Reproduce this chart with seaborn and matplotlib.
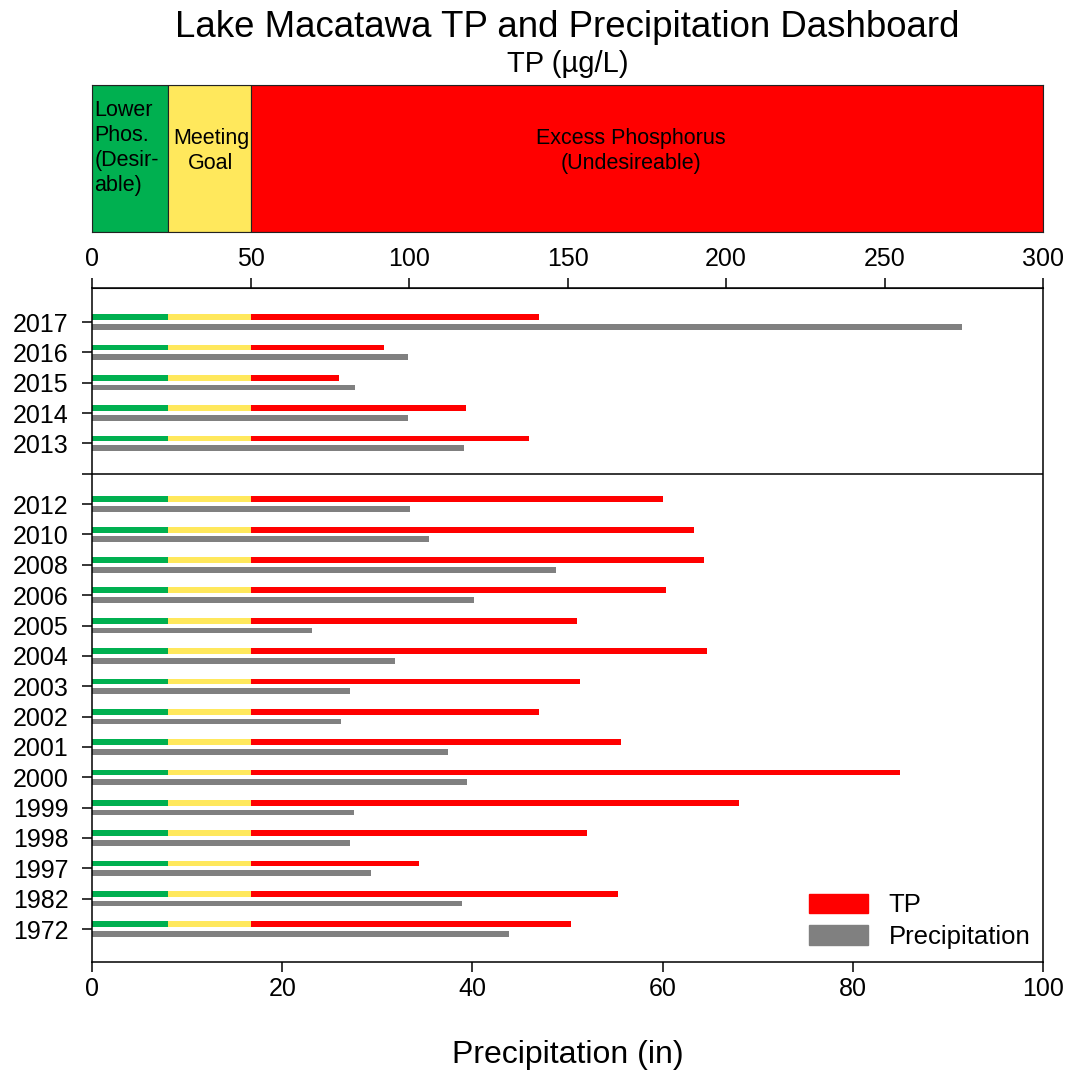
#!/usr/bin/env python3
import pandas as pd
import matplotlib
matplotlib.use("Agg")
import matplotlib.pyplot as plt
from matplotlib.patches import Patch
import seaborn as sns

# Data
years_recent = ["2017", "2016", "2015", "2014", "2013"]
tp_recent = [141, 92, 78, 118, 138]          # ug/L
precip_recent = [91.5, 33.2, 27.7, 33.2, 39.1]  # in

years_old = ["2012", "2010", "2008", "2006", "2005", "2004", "2003", "2002",
             "2001", "2000", "1999", "1998", "1997", "1982", "1972"]
tp_old = [180, 190, 193, 181, 153, 194, 154, 141, 167, 255, 204, 156, 103, 166, 151]
precip_old = [33.4, 35.4, 48.8, 40.2, 23.1, 31.9, 27.1, 26.2, 37.4, 39.4,
              27.5, 27.1, 29.3, 38.9, 43.8]

# TP class limits (ug/L)
green_max = 24
yellow_max = 50
tp_max = 300
tp_scale = 3.0  # TP axis (0-300) maps onto precipitation axis (0-100)

GREEN = "#00B050"
YELLOW = "#FFE85C"
RED = "#FF0000"
GRAY = "#808080"


def build_frame():
    # old years take positions 0..14 from the bottom, a gap at 15, recent at 16..20
    old = pd.DataFrame({"year": years_old[::-1], "tp": tp_old[::-1],
                        "precip": precip_old[::-1]})
    old["pos"] = range(len(old))
    rec = pd.DataFrame({"year": years_recent[::-1], "tp": tp_recent[::-1],
                        "precip": precip_recent[::-1]})
    rec["pos"] = [len(old) + 1 + i for i in range(len(rec))]
    return pd.concat([old, rec], ignore_index=True), len(old)


def main():
    sns.set_style("ticks")
    plt.rcParams["font.family"] = ["Liberation Sans", "DejaVu Sans"]
    for k in ["text.color", "axes.labelcolor", "xtick.color", "ytick.color"]:
        plt.rcParams[k] = "black"

    df, gap_pos = build_frame()

    fig = plt.figure(figsize=(10.69, 10.70), dpi=100)
    ax_band = fig.add_axes([0.0861, 0.7832, 0.8896, 0.1374])
    ax = fig.add_axes([0.0861, 0.1009, 0.8896, 0.6299])

    # --- top colour band ---
    ax_band.axvspan(0, green_max, color=GREEN, ec="#222222", lw=0.8)
    ax_band.axvspan(green_max, yellow_max, color=YELLOW, ec="#222222", lw=0.8)
    ax_band.axvspan(yellow_max, tp_max, color=RED, ec="#222222", lw=0.8)
    ax_band.set_xlim(0, tp_max)
    ax_band.set_ylim(0, 1)
    ax_band.set_xticks([])
    ax_band.set_yticks([])
    for s in ax_band.spines.values():
        s.set_color("#222222")
        s.set_linewidth(0.8)
    ax_band.text(0.8, 0.57, "Lower\nPhos.\n(Desir-\nable)", ha="left", va="center",
                 fontsize=15.5, linespacing=1.25)
    ax_band.text((green_max + yellow_max) / 2 + 0.5, 0.55, "Meeting\nGoal",
                 ha="center", va="center", fontsize=15.5, linespacing=1.25)
    ax_band.text(170, 0.55, "Excess Phosphorus\n(Undesireable)", ha="center",
                 va="center", fontsize=15.5, linespacing=1.25)

    # --- main bars ---
    h = 0.19
    off = 0.16
    g = green_max / tp_scale
    y = yellow_max / tp_scale
    pos_tp = df["pos"] + off
    ax.barh(pos_tp, g, height=h, color=GREEN, lw=0)
    ax.barh(pos_tp, y - g, left=g, height=h, color=YELLOW, lw=0)
    ax.barh(pos_tp, df["tp"] / tp_scale - y, left=y, height=h, color=RED, lw=0)

    pdf = pd.DataFrame({"precip": df["precip"], "ypos": df["pos"] - off})
    sns.barplot(data=pdf, x="precip", y="ypos", orient="y", native_scale=True,
                width=h, color=GRAY, saturation=1, errorbar=None, ax=ax, lw=0)

    ax.axhline(gap_pos, color="black", lw=1.1)

    ax.set_xlim(0, 100)
    ax.set_ylim(-1.087, 21.12)
    ax.set_xticks(range(0, 101, 20))
    ticks = list(df["pos"]) + [gap_pos]
    labels = list(df["year"]) + [""]
    ax.set_yticks(ticks)
    ax.set_yticklabels(labels)
    ax.set_ylabel("")
    ax.set_xlabel("Precipitation (in)", fontsize=23, labelpad=28)
    ax.tick_params(axis="both", labelsize=18, length=7, width=1.1, direction="out",
                   color="black")
    ax.tick_params(axis="y", pad=10)
    for s in ax.spines.values():
        s.set_visible(True)
        s.set_color("black")
        s.set_linewidth(1.1)

    sec = ax.secondary_xaxis("top", functions=(lambda v: v * tp_scale,
                                               lambda v: v / tp_scale))
    sec.set_xticks(range(0, tp_max + 1, 50))
    sec.tick_params(labelsize=18, length=7, width=1.1, direction="out", pad=5)

    handles = [Patch(color=RED, label="TP"), Patch(color=GRAY, label="Precipitation")]
    ax.legend(handles=handles, loc="lower right", frameon=False, fontsize=18.5,
              handlelength=2.3, handleheight=0.8, borderaxespad=0.1,
              labelspacing=0.3)

    # titles are centred over the plotting area
    xc = 0.0861 + 0.8896 / 2
    fig.text(xc, 0.974, "Lake Macatawa TP and Precipitation Dashboard",
             ha="center", va="center", fontsize=26.4)
    fig.text(xc, 0.940, "TP (\u00b5g/L)", ha="center", va="center", fontsize=21)

    fig.savefig("out.png", dpi=100)


if __name__ == "__main__":
    main()
